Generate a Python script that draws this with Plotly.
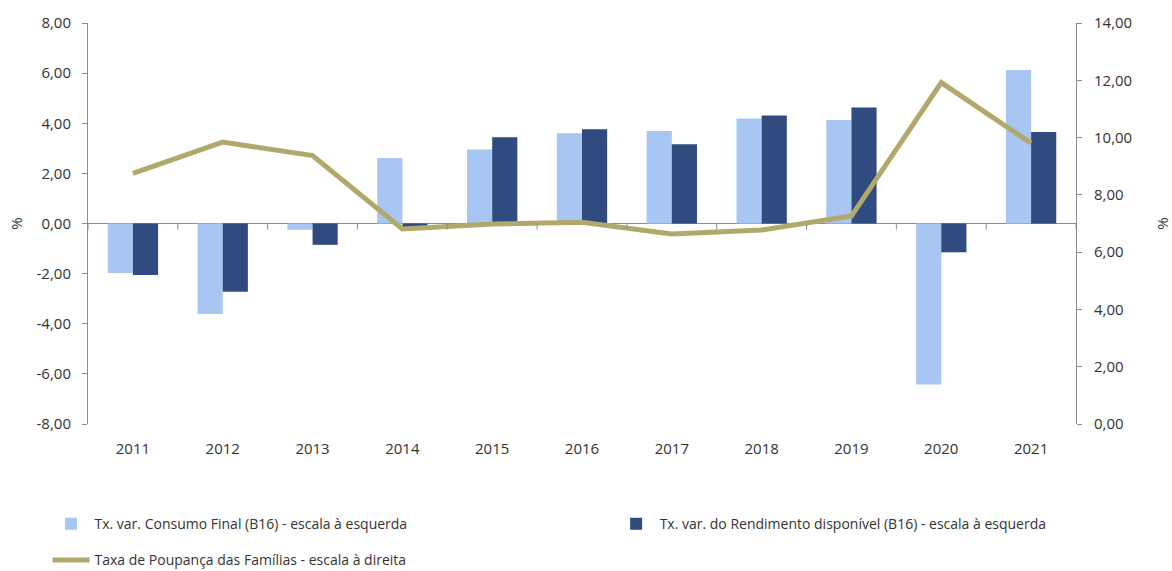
import plotly.graph_objects as go

# Household accounts, Portugal 2011-2021
years = ["2011", "2012", "2013", "2014", "2015", "2016", "2017", "2018", "2019", "2020", "2021"]
consumo_final = [-1.98, -3.61, -0.25, 2.61, 2.95, 3.60, 3.69, 4.19, 4.13, -6.42, 6.12]
rendimento_disp = [-2.05, -2.72, -0.85, -0.15, 3.44, 3.76, 3.16, 4.31, 4.63, -1.15, 3.65]
taxa_poupanca = [8.75, 9.84, 9.37, 6.81, 6.98, 7.04, 6.63, 6.77, 7.26, 11.92, 9.80]

left_ticks = [-8, -6, -4, -2, 0, 2, 4, 6, 8]
right_ticks = [0, 2, 4, 6, 8, 10, 12, 14]

LIGHT = "#A7C7F2"
DARK = "#2F4B7F"
OLIVE = "#B0A96B"
AXIS = "#8C8C8C"
TXT = "#333333"
FONT = "Open Sans, DejaVu Sans, sans-serif"


def pt(v):
    return f"{v:.2f}".replace(".", ",")


fig = go.Figure()
fig.add_trace(go.Bar(
    x=years, y=consumo_final, name="Tx. var. Consumo Final (B16) - escala à esquerda",
    marker=dict(color=LIGHT, line=dict(width=0)), yaxis="y",
    legend="legend", legendgroup="a"))
fig.add_trace(go.Bar(
    x=years, y=rendimento_disp, name="Tx. var. do Rendimento disponível (B16) - escala à esquerda",
    marker=dict(color=DARK, line=dict(width=0)), yaxis="y",
    legend="legend2", legendgroup="b"))
fig.add_trace(go.Scatter(
    x=years, y=taxa_poupanca, name="Taxa de Poupança das Famílias - escala à direita",
    mode="lines", line=dict(color=OLIVE, width=5), yaxis="y2",
    legend="legend", legendgroup="c"))

# short tick marks on the zero line, between categories
for i in range(len(years) + 1):
    fig.add_shape(type="line", xref="x", yref="y", ysizemode="pixel", yanchor=0,
                  x0=i - 0.5, x1=i - 0.5, y0=0, y1=-6,
                  line=dict(color=AXIS, width=1), layer="above")

legend_common = dict(orientation="v", yanchor="top", xanchor="left",
                     itemwidth=37, font=dict(size=14, color=TXT, family=FONT),
                     tracegroupgap=15, traceorder="grouped", itemclick=False,
                     bgcolor="rgba(0,0,0,0)")

fig.update_layout(
    width=1172, height=571,
    margin=dict(l=88, r=96, t=23, b=147, autoexpand=False),
    paper_bgcolor="white", plot_bgcolor="white",
    font=dict(family=FONT, size=15, color=TXT),
    barmode="group", bargap=0.44, bargroupgap=0.0,
    showlegend=True,
    legend=dict(x=-0.041, y=-0.21, **legend_common),
    legend2=dict(x=0.531, y=-0.21, **legend_common),
    xaxis=dict(type="category", range=[-0.5, len(years) - 0.5], showline=False,
               showgrid=False, ticks="", ticklabelstandoff=14,
               tickfont=dict(size=15, color=TXT), fixedrange=True),
    yaxis=dict(range=[-8, 8], tickvals=left_ticks, ticktext=[pt(v) for v in left_ticks],
               showgrid=False, showline=True, linecolor=AXIS, linewidth=1,
               ticks="outside", ticklen=5, tickcolor=AXIS, ticklabelstandoff=8,
               zeroline=True, zerolinecolor=AXIS, zerolinewidth=1,
               tickfont=dict(size=15, color=TXT),
               title=dict(text="%", standoff=10, font=dict(size=15, color=TXT))),
    yaxis2=dict(range=[0, 14], tickvals=right_ticks, ticktext=[pt(v) for v in right_ticks],
                overlaying="y", side="right", showgrid=False, showline=True,
                linecolor=AXIS, linewidth=1, ticks="outside", ticklen=5, tickcolor=AXIS,
                ticklabelstandoff=9, zeroline=False, tickfont=dict(size=15, color=TXT),
                title=dict(text="%", standoff=30, font=dict(size=15, color=TXT))),
)

fig.write_html("out.html")
